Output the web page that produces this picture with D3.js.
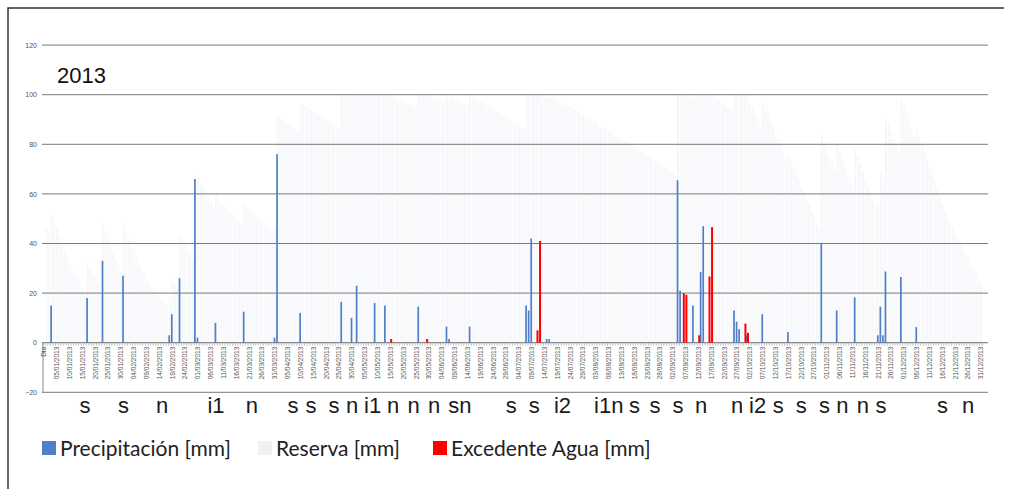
<!DOCTYPE html>
<html>
<head>
<meta charset="utf-8">
<style>
  body { margin:0; background:#fff; }
  svg { font-family: "Liberation Sans", Arial, sans-serif; }
  .grid line { stroke:#7a7a7a; stroke-width:1; }
  .yaxis text { font-size:7px; fill:#555; }
  .xaxis text { font-size:6.5px; fill:#555; }
  .nota { font-size:22px; fill:#1a1a1a; }
  .leg { font-size:21px; fill:#222; font-family: Lato, "Open Sans", sans-serif; }
</style>
</head>
<body>
<svg width="1026" height="489"></svg>
<script src="https://d3js.org/d3.v7.min.js"></script>
<script>
// categorias: "Día" + cada día de 2013
var dias = d3.timeDay.range(new Date(2013, 0, 1), new Date(2014, 0, 1));
var fmt = d3.timeFormat("%d/%m/%Y");
var categorias = ["Día"].concat(dias.map(fmt));
var etiquetasX = d3.range(0, 366, 5);
var ticksY = [-20, 0, 20, 40, 60, 80, 100, 120];

// precipitación [mm] (día del año, valor)
var precipitacion = [
  [3, 15], [17, 18], [23, 33], [31, 27], [49, 3], [50, 11.5], [53, 26], [59, 66], [60, 2],
  [67, 8], [78, 12.5], [90, 2], [91, 76], [100, 12], [116, 16.5], [120, 10], [122, 23],
  [129, 16], [133, 15], [146, 14.5], [157, 6.5], [158, 1.5], [166, 6.5], [188, 15],
  [189, 13], [190, 42], [196, 1.5], [197, 1.5], [247, 65.5], [248, 21], [253, 15],
  [256, 28.5], [257, 47], [269, 13], [270, 8.5], [271, 5.5], [274, 3], [280, 11.5],
  [290, 4.3], [303, 40], [309, 13], [316, 18.3], [325, 3], [326, 14.5], [327, 3],
  [328, 28.7], [334, 26.5], [340, 6.3]
];

// excedente agua [mm]
var excedente = [
  [135, 1.5], [149, 1.5], [192, 5], [193, 41], [249, 20], [250, 19.3], [255, 3],
  [259, 26.7], [260, 46.6], [273, 7.7], [274, 4]
];

// reserva [mm], un valor por día (01/01 .. 31/12)
var reserva = [
  46,44,52,49,46,43,40,37,35,32,30,28,26,24,22,20,33,30,28,26,24,22,48,45,42,39,36,33,31,29,48,
  45,42,39,37,34,32,30,28,26,24,22,20,19,18,17,16,15,17,26,24,23,44,42,40,38,36,34,68,
  67,65,63,61,59,57,55,60,58,56,55,54,53,52,51,50,49,48,56,55,54,53,52,51,50,49,48,47,46,45,46,
  92,91,90,89,88,88,87,86,85,96,96,95,94,94,93,92,92,91,90,90,89,88,88,87,86,100,100,99,99,100,
  100,100,100,100,100,100,100,100,100,100,100,100,100,100,100,99,99,98,98,97,97,96,96,95,95,100,100,100,100,99,99,
  99,98,98,97,97,100,99,99,98,98,97,97,96,96,100,99,99,98,97,97,96,95,95,94,93,93,92,91,91,90,
  90,89,88,88,87,86,100,100,100,100,100,100,99,99,99,99,98,98,97,97,96,96,95,95,94,94,93,92,92,91,91,
  90,89,89,88,87,87,86,85,85,84,83,83,82,81,81,80,79,79,78,77,77,76,75,75,74,73,73,72,71,71,70,
  69,68,67,100,100,100,100,99,99,100,99,99,100,100,100,100,100,99,98,98,97,96,95,95,94,100,100,100,100,100,
  100,97,95,92,90,87,97,94,92,89,87,84,82,79,77,74,76,73,71,68,66,63,61,58,56,53,51,48,46,84,81,
  78,75,72,69,80,77,74,71,68,65,62,78,75,72,69,66,63,60,57,54,56,68,65,90,88,85,82,79,76,98,
  95,92,89,86,83,86,83,80,77,74,71,68,65,62,59,56,53,50,48,46,44,42,40,38,36,34,32,30,28,26,24
];

// anotaciones bajo el eje (día, texto)
var notaDias = [16, 31, 46, 67, 81, 97, 104, 113, 120, 128, 136, 144, 152, 162, 182, 191, 202,
  220, 230, 238, 247, 256, 270, 278, 286, 295, 304, 311, 319, 326, 350, 360];
var notaTextos = ["s", "s", "n", "i1", "n", "s", "s", "s", "n", "i1", "n", "n", "n", "sn", "s", "s", "i2",
  "i1n", "s", "s", "s", "n", "n", "i2", "s", "s", "s", "n", "n", "s", "s", "n"];

var svg = d3.select("svg");

var x = d3.scaleBand().domain(d3.range(categorias.length)).range([42.7, 982.3]).padding(0);
var y = d3.scaleLinear().domain([-20, 120]).range([392.3, 45.1]);
var bw = x.bandwidth();
function cx(i) { return x(i) + bw / 2; }

// marco
svg.append("path").attr("d", "M8,489V8H1004").attr("fill", "none").attr("stroke", "#333").attr("stroke-width", 1.5);

// reserva (muy tenue)
svg.append("g").selectAll("rect").data(reserva).enter().append("rect")
  .attr("x", function(d, i) { return x(i + 1) + 0.4; })
  .attr("width", bw - 0.8)
  .attr("y", function(d) { return y(d); })
  .attr("height", function(d) { return y(0) - y(d); })
  .attr("fill", "#f6f7fa");

// grid
svg.append("g").attr("class", "grid")
  .selectAll("line").data(ticksY.filter(function(d) { return d != 0; })).enter().append("line")
  .attr("x1", 42).attr("x2", 988)
  .attr("y1", function(d) { return y(d); }).attr("y2", function(d) { return y(d); });

// eje 0 con marcas
svg.append("line").attr("x1", 42).attr("x2", 988).attr("y1", y(0)).attr("y2", y(0))
  .attr("stroke", "#8a8a8a").attr("stroke-width", 1.2);
svg.append("g").selectAll("line").data(d3.range(categorias.length + 1)).enter().append("line")
  .attr("x1", function(i) { return 42.7 + i * bw; }).attr("x2", function(i) { return 42.7 + i * bw; })
  .attr("y1", y(0)).attr("y2", y(0) + 3).attr("stroke", "#9a9a9a").attr("stroke-width", 0.6);
svg.append("line").attr("x1", 43).attr("x2", 43).attr("y1", y(0)).attr("y2", y(-20))
  .attr("stroke", "#8a8a8a");

// precipitación
svg.append("g").selectAll("rect").data(precipitacion).enter().append("rect")
  .attr("x", function(d) { return cx(d[0]) - 1.4; })
  .attr("width", 1.7)
  .attr("y", function(d) { return y(d[1]); })
  .attr("height", function(d) { return y(0) - y(d[1]); })
  .attr("fill", "#4f7fc9");

// excedente
svg.append("g").selectAll("rect").data(excedente).enter().append("rect")
  .attr("x", function(d) { return cx(d[0]) - 0.4; })
  .attr("width", 2)
  .attr("y", function(d) { return y(d[1]); })
  .attr("height", function(d) { return y(0) - y(d[1]); })
  .attr("fill", "#ff0000");

// ejes
var yAxis = svg.append("g").attr("class", "yaxis").attr("transform", "translate(39,0)")
  .call(d3.axisLeft(y).tickValues(ticksY).tickSize(0).tickPadding(2));
yAxis.select(".domain").remove();

var xAxis = svg.append("g").attr("class", "xaxis").attr("transform", "translate(0," + y(0) + ")")
  .call(d3.axisBottom(x).tickValues(etiquetasX).tickFormat(function(i) { return categorias[i]; }).tickSize(0));
xAxis.select(".domain").remove();
xAxis.selectAll("text")
  .attr("transform", "rotate(-90)")
  .attr("x", -4).attr("y", 0).attr("dy", "0.35em")
  .style("text-anchor", "end");

// título
svg.append("text").attr("x", 57).attr("y", 83).attr("font-size", "22px").attr("fill", "#111").text("2013");

// notas
svg.append("g").selectAll("text").data(notaDias).enter().append("text")
  .attr("class", "nota")
  .attr("x", function(d) { return cx(d); })
  .attr("y", 413)
  .attr("text-anchor", "middle")
  .text(function(d, i) { return notaTextos[i]; });

// leyenda
var leyenda = [
  {t: "Precipitación [mm]", c: "#4f7fc9", x: 42},
  {t: "Reserva [mm]", c: "#eef0f3", x: 258},
  {t: "Excedente Agua [mm]", c: "#ff0000", x: 433}
];
var lg = svg.append("g").selectAll("g").data(leyenda).enter().append("g")
  .attr("transform", function(d) { return "translate(" + d.x + ",441)"; });
lg.append("rect").attr("width", 14).attr("height", 14).attr("fill", function(d) { return d.c; });
lg.append("text").attr("class", "leg").attr("x", 18).attr("y", 15).text(function(d) { return d.t; });
</script>
</body>
</html>
